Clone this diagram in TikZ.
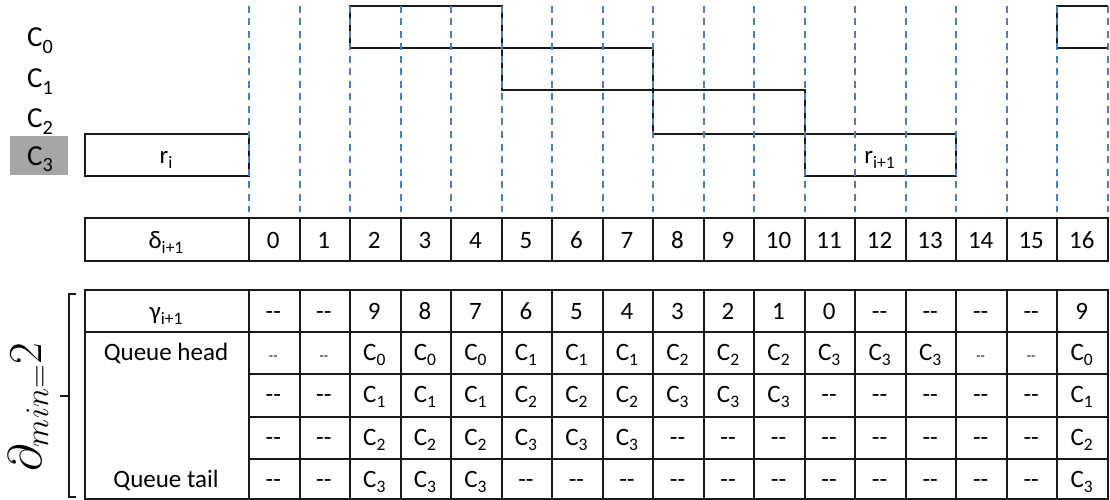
\documentclass[tikz,border=0pt]{standalone}
\usepackage{fontspec}
\usepackage{graphicx}
\setmainfont{Carlito}
\DeclareMathSizes{24.88}{24.88}{16}{12}
\definecolor{guideblue}{RGB}{74,126,187}
\definecolor{linec}{RGB}{25,25,25}
\definecolor{graybox}{RGB}{166,166,166}
\newcommand\Sb[1]{\raisebox{-0.22em}{\scalebox{0.7}{#1}}}
\newcommand\Cs[1]{C\Sb{#1}}
\newcommand\ddash{-{}-}
\newcommand\sddash{{\fontsize{14}{14}\selectfont-{}-}}
\def\X#1{248+50.53*(#1)}
\def\XL#1{round(248+50.53*(#1))+0.5}
\begin{document}
\begin{tikzpicture}[x=1pt,y=-1pt,
  frame/.style={line width=2pt, draw=linec},
  guide/.style={line width=2pt, draw=guideblue, dash pattern=on 7pt off 5.5pt},
  txt/.style={anchor=base, inner sep=0pt, font=\fontsize{25}{29}\selectfont},
  clab/.style={anchor=base, inner sep=0pt, font=\fontsize{29}{33}\selectfont}]
\useasboundingbox (0,0) rectangle (1110,500);

% left channel labels
\fill[graybox] (10,136) rectangle (68,175);
\node[clab] (c0) at (40,47) {\Cs0};
\node[clab] (c1) at (40,88) {\Cs1};
\node[clab] (c2) at (40,128) {\Cs2};
\node[clab] (c3) at (40,165) {\Cs3};

% timeline blocks
\draw[frame] (84.5,133.5) rectangle ({\XL0},175.5);
\node[txt] (ri) at (166,163) {r\Sb{i}};
\draw[frame] ({\XL2},6.5) rectangle ({\XL5},48.5);
\draw[frame] ({\XL5},48.5) rectangle ({\XL8},90.5);
\draw[frame] ({\XL8},90.5) rectangle ({\XL{11}},133.5);
\draw[frame] ({\XL{11}},133.5) rectangle ({\XL{14}},175.5);
\node[txt] (rii) at ({\X{12.5}},163) {r\Sb{i+1}};
\draw[frame] ({\XL{17}},6.5) -- ({\XL{16}},6.5) -- ({\XL{16}},48.5) -- ({\XL{17}},48.5);

% guide lines
\foreach \k in {0,...,17} \draw[guide] ({\XL{\k}},6) -- ({\XL{\k}},212);

% delta table
\draw[frame] (84.5,217.5) rectangle ({\XL{17}},260.5);
\foreach \k in {0,...,16} \draw[frame] ({\XL{\k}},217.5) -- ({\XL{\k}},260.5);
\node[txt] (dlab) at (166,248) {δ\Sb{i+1}};
\foreach \v [count=\k from 0] in {0,...,16}
  \node[txt] (d\k) at ({\X{\k+0.5}},248) {\v};

% queue table
\draw[frame] (84.5,289.5) rectangle ({\XL{17}},498.5);
\draw[frame] (84.5,331.5) -- ({\XL{17}},331.5);
\foreach \yy in {373.5,416.5,458.5} \draw[frame] ({\XL0},\yy) -- ({\XL{17}},\yy);
\foreach \k in {0,...,16} \draw[frame] ({\XL{\k}},289.5) -- ({\XL{\k}},498.5);

\node[txt] (glab) at (166,319) {γ\Sb{i+1}};
\node[txt] (qhead) at (166,360) {Queue head};
\node[txt] (qtail) at (166,487) {Queue tail};

\foreach \v [count=\k from 0] in {\ddash,\ddash,9,8,7,6,5,4,3,2,1,0,\ddash,\ddash,\ddash,\ddash,9}
  \node[txt] (g\k) at ({\X{\k+0.5}},319) {\v};
\foreach \v [count=\k from 0] in {\sddash,\sddash,\Cs0,\Cs0,\Cs0,\Cs1,\Cs1,\Cs1,\Cs2,\Cs2,\Cs2,\Cs3,\Cs3,\Cs3,\sddash,\sddash,\Cs0}
  \node[txt] (h\k) at ({\X{\k+0.5}},360) {\v};
\foreach \v [count=\k from 0] in {\ddash,\ddash,\Cs1,\Cs1,\Cs1,\Cs2,\Cs2,\Cs2,\Cs3,\Cs3,\Cs3,\ddash,\ddash,\ddash,\ddash,\ddash,\Cs1}
  \node[txt] (q\k) at ({\X{\k+0.5}},402) {\v};
\foreach \v [count=\k from 0] in {\ddash,\ddash,\Cs2,\Cs2,\Cs2,\Cs3,\Cs3,\Cs3,\ddash,\ddash,\ddash,\ddash,\ddash,\ddash,\ddash,\ddash,\Cs2}
  \node[txt] (p\k) at ({\X{\k+0.5}},445) {\v};
\foreach \v [count=\k from 0] in {\ddash,\ddash,\Cs3,\Cs3,\Cs3,\ddash,\ddash,\ddash,\ddash,\ddash,\ddash,\ddash,\ddash,\ddash,\ddash,\ddash,\Cs3}
  \node[txt] (t\k) at ({\X{\k+0.5}},487) {\v};

% brace and label
\coordinate (btop) at (76,293.5);
\coordinate (bbot) at (76,497);
\coordinate (bmid) at (60,396);
\draw[frame] (btop) -- (68.5,293.5) -- (68.5,497) -- (bbot);
\draw[frame] (68.5,396) -- (bmid);
\node[rotate=90, anchor=base, inner sep=0pt, scale=1.9, font=\fontsize{24.88}{28}\selectfont] (dmin) at (41,407) {$\partial_{min=}2$};
\end{tikzpicture}
\end{document}
